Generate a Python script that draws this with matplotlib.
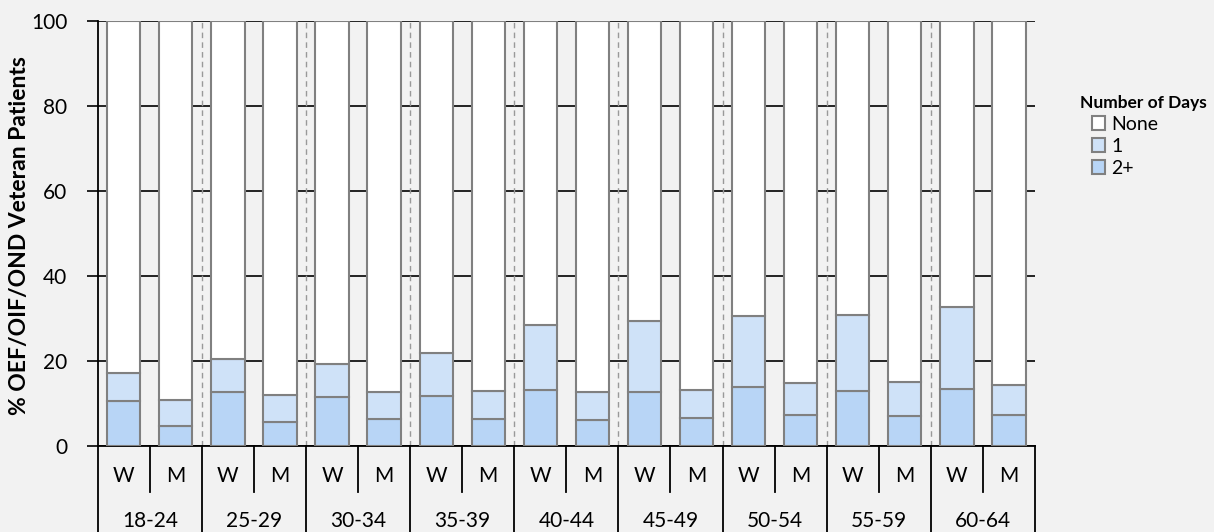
import matplotlib
matplotlib.use("Agg")
import matplotlib.pyplot as plt
from matplotlib.patches import Patch

plt.rcParams['font.family'] = ['Lato', 'DejaVu Sans']

# data (percent of patients)
age_groups = ["18-24", "25-29", "30-34", "35-39", "40-44", "45-49", "50-54", "55-59", "60-64"]
sexes = ["W", "M"]
two_plus = [10.6, 4.7, 12.7, 5.6, 11.5, 6.3, 11.8, 6.3, 13.1, 6.2,
            12.6, 6.5, 13.8, 7.3, 13.0, 7.1, 13.3, 7.2]
total_any = [17.2, 10.8, 20.4, 12.0, 19.4, 12.7, 22.0, 13.0, 28.5, 12.6,
             29.5, 13.2, 30.7, 14.9, 30.9, 15.1, 32.6, 14.4]
one_day = [t - d for t, d in zip(total_any, two_plus)]
none = [100 - t for t in total_any]

bg = "#f2f2f2"
c_none = "white"
c_one = "#cfe2f8"
c_two = "#b8d5f6"
edge = "#808080"

W, H = 1214, 532
fig = plt.figure(figsize=(W / 100, H / 100), dpi=100, facecolor=bg)
x0, x1, y0, y1 = 97.7, 1035, 446, 21
ax = fig.add_axes([x0 / W, (H - y0) / H, (x1 - x0) / W, (y0 - y1) / H])
ax.set_facecolor(bg)

n = len(two_plus)
xs = [i + 0.5 for i in range(n)]
bw = 0.64
ax.bar(xs, two_plus, bw, color=c_two, edgecolor=edge, linewidth=1.5, zorder=3)
ax.bar(xs, one_day, bw, bottom=two_plus, color=c_one, edgecolor=edge, linewidth=1.5, zorder=3)
ax.bar(xs, none, bw, bottom=total_any, color=c_none, edgecolor=edge, linewidth=1.5, zorder=3)

ax.set_xlim(0, n)
ax.set_ylim(0, 100)
ax.set_yticks(range(0, 101, 20))
ax.yaxis.grid(True, color="black", linewidth=1.2, zorder=0)
ax.set_axisbelow(True)
ax.tick_params(axis='y', length=8, width=1.2, labelsize=15, pad=14, color="black")
ax.set_xticks([])
for s in ["top", "right"]:
    ax.spines[s].set_visible(False)
ax.spines["left"].set_linewidth(1.3)
ax.spines["bottom"].set_linewidth(1.3)

# dashed separators between age groups
for g in range(1, len(age_groups)):
    ax.axvline(2 * g, color="#999999", linestyle=(0, (4, 3)), linewidth=1, zorder=1)

# two-level category axis drawn as a table below the plot
tr = ax.get_xaxis_transform()
ah = y0 - y1
short = -(492 - y0) / ah
long_ = -(560 - y0) / ah
for k in range(n + 1):
    bottom = long_ if k % 2 == 0 else short
    ax.plot([k, k], [0, bottom], color="black", linewidth=1.3, transform=tr, clip_on=False)
for k in range(n):
    ax.text(k + 0.5, -(476 - y0) / ah, sexes[k % 2], transform=tr, ha="center", va="center", fontsize=15)
for g, lab in enumerate(age_groups):
    ax.text(2 * g + 1, -(521 - y0) / ah, lab, transform=tr, ha="center", va="center", fontsize=15)

fig.text(20 / W, 1 - 236 / H, "% OEF/OIF/OND Veteran Patients", rotation=90,
         ha="center", va="center", fontsize=16.5, fontweight="bold")

fig.text(1080 / W, 1 - 103 / H, "Number of Days", ha="left", va="center",
         fontsize=12.5, fontweight="bold")
handles = [Patch(facecolor=c_none, edgecolor=edge, linewidth=1.5, label="None"),
           Patch(facecolor=c_one, edgecolor=edge, linewidth=1.5, label="1"),
           Patch(facecolor=c_two, edgecolor=edge, linewidth=1.5, label="2+")]
leg = fig.legend(handles=handles, loc="upper left", bbox_to_anchor=(1086 / W, 1 - 110 / H),
                 frameon=False, fontsize=14, borderaxespad=0, borderpad=0.3,
                 handlelength=0.7, handleheight=0.7, handletextpad=0.3, labelspacing=0.25)

fig.savefig("out.png", dpi=100, facecolor=bg)
